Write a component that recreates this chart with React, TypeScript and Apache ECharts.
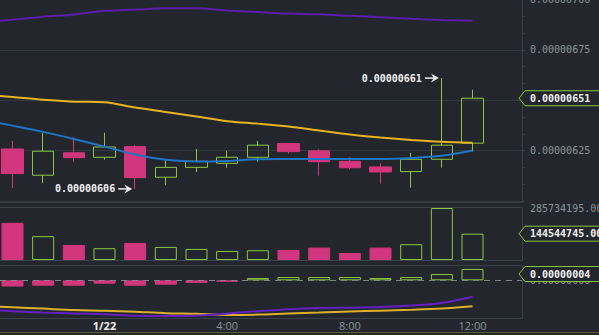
import React, { useEffect, useRef } from 'react';
import * as echarts from 'echarts';

// ---- data (prices in units of 1e-8) ----
const PRICE_UNIT = 1e-8;
const candleHours = [-3, -2, -1, 0, 1, 2, 3, 4, 5, 6, 7, 8, 9, 10, 11, 12];
const lineHours = [-4, -3, -2, -1, 0, 1, 2, 3, 4, 5, 6, 7, 8, 9, 10, 11, 12];

const openSat = [625.8, 612.8, 623.9, 621.7, 627.0, 611.8, 616.7, 618.7, 621.7, 628.5, 624.9, 619.7, 616.9, 614.6, 620.7, 628.7];
const closeSat = [613.6, 624.7, 621.5, 626.8, 611.6, 616.7, 619.7, 621.7, 627.7, 624.5, 619.5, 616.5, 614.4, 620.7, 627.7, 651.0];
const lowSat = [606.5, 608.8, 619.5, 620.5, 606.0, 607.8, 614.4, 616.5, 619.5, 623.5, 612.6, 615.6, 608.6, 606.6, 616.5, 624.5];
const highSat = [629.8, 633.9, 631.8, 633.9, 627.8, 620.9, 625.8, 624.9, 629.8, 628.7, 625.8, 621.7, 618.9, 623.9, 661.0, 655.2];

const volume = [204500000, 131000000, 82900000, 64700000, 94000000, 71800000, 60800000, 49700000, 53600000, 55300000, 68000000, 38700000, 68000000, 86800000, 285734195, 144544745];

const maLong = [688.6, 690.0, 691.4, 692.6, 694.4, 695.0, 695.6, 695.7, 694.5, 693.8, 693.0, 692.7, 691.9, 691.2, 690.4, 689.8, 689.5];
const maMid = [652.9, 651.6, 650.2, 649.3, 649.0, 646.4, 644.2, 641.9, 639.6, 638.4, 637.0, 635.0, 633.0, 631.5, 630.3, 629.4, 628.9];
const maShort = [640.4, 637.4, 634.3, 630.8, 627.0, 623.1, 620.5, 619.6, 619.9, 620.7, 620.8, 620.9, 620.8, 620.8, 621.3, 622.4, 625.0];

const macdLine = [-10.4, -10.9, -11.4, -11.7, -12.0, -12.5, -12.6, -12.5, -11.7, -10.9, -10.2, -9.8, -9.65, -9.4, -8.9, -8.0, -5.8];
const signalLine = [-8.98, -9.5, -9.99, -10.5, -10.7, -11.1, -11.6, -11.8, -12.2, -12.1, -11.7, -11.4, -11.0, -10.7, -10.4, -9.96, -9.15];
const macdHist = [-2.2, -1.9, -1.9, -1.2, -1.9, -1.55, -0.9, -0.5, 0.8, 1.15, 1.15, 1.15, 0.8, 1.15, 2.2, 4.0];

const xTickHours = [0, 4, 8, 12];
const xTickLabels = ['1/22', '4:00', '8:00', '12:00'];

// ---- styles ----
const BG = '#23272d';
const GREEN = '#8cc63f';
const PINK = '#d2367c';
const GRID_LINE = '#31373e';
const BORDER = '#3a4048';
const AXIS_TEXT = '#8c939a';
const MONO = '"DejaVu Sans Mono", "Liberation Mono", monospace';
const SANS = '"Open Sans", "Noto Sans", sans-serif';
const X_MIN = -3.407;
const X_MAX = 13.613;
const TAG_HALF = 7.5;

const fmtPrice = (v: number) => (v * PRICE_UNIT).toFixed(8);
const maxVolume = Math.max(...volume);

function buildOption(): any {
  const isUp = (i: number) => closeSat[i] >= openSat[i];
  const xAxisBase = (gridIndex: number) => ({
    type: 'value',
    gridIndex,
    min: X_MIN,
    max: X_MAX,
    show: false,
  });
  return {
    animation: false,
    backgroundColor: BG,
    grid: [
      { left: 0, right: 77, top: -0.5, height: 201.5, containLabel: false, outerBoundsMode: 'none' },
      { left: 0, right: 77, top: 208, height: 52, containLabel: false, outerBoundsMode: 'none' },
      { left: 0, right: 77, top: 265, height: 53, containLabel: false, outerBoundsMode: 'none' },
    ],
    xAxis: [
      xAxisBase(0),
      xAxisBase(1),
      {
        type: 'value',
        gridIndex: 2,
        min: X_MIN,
        max: X_MAX,
        axisLine: { show: false, onZero: false },
        axisTick: { show: false },
        splitLine: { show: false },
        axisLabel: {
          customValues: xTickHours,
          margin: 2,
          color: AXIS_TEXT,
          fontFamily: SANS,
          fontSize: 11,
          formatter: (v: number) => {
            const i = xTickHours.indexOf(v);
            const t = i >= 0 ? xTickLabels[i] : '';
            return i === 0 ? `{b|${t}}` : t;
          },
          rich: { b: { fontWeight: 'bold', color: '#eeeeee', fontFamily: SANS, fontSize: 11 } },
        },
      },
    ],
    yAxis: [
      {
        type: 'value',
        gridIndex: 0,
        position: 'right',
        min: 600,
        max: 700,
        interval: 25,
        axisLine: { show: true, onZero: false, lineStyle: { color: BORDER } },
        axisTick: { show: true, length: 3, lineStyle: { color: BORDER } },
        minorTick: { show: true, splitNumber: 3, length: 3, lineStyle: { color: BORDER } },
        splitLine: { show: true, lineStyle: { color: GRID_LINE } },
        axisLabel: {
          margin: 8,
          color: AXIS_TEXT,
          fontFamily: MONO,
          fontSize: 10,
          showMinLabel: false,
          formatter: (v: number) => fmtPrice(v),
        },
      },
      {
        type: 'value',
        gridIndex: 1,
        position: 'right',
        min: 0,
        max: maxVolume,
        axisLine: { show: false, onZero: false },
        axisTick: { show: false },
        splitLine: { show: false },
        axisLabel: {
          customValues: [maxVolume],
          margin: 8,
          color: AXIS_TEXT,
          fontFamily: MONO,
          fontSize: 10,
          formatter: (v: number) => v.toFixed(2),
        },
      },
      {
        type: 'value',
        gridIndex: 2,
        position: 'right',
        min: -13.3,
        max: 5.4,
        axisLine: { show: false, onZero: false },
        axisTick: { show: false },
        splitLine: { show: false },
        axisLabel: {
          customValues: [0],
          margin: 8,
          color: AXIS_TEXT,
          fontFamily: MONO,
          fontSize: 10,
          formatter: (v: number) => fmtPrice(v),
        },
      },
    ],
    series: [
      {
        type: 'candlestick',
        xAxisIndex: 0,
        yAxisIndex: 0,
        barWidth: 22,
        data: candleHours.map((h, i) => [h, openSat[i], closeSat[i], lowSat[i], highSat[i]]),
        itemStyle: {
          color: 'rgba(0,0,0,0)',
          color0: PINK,
          borderColor: GREEN,
          borderColor0: PINK,
          borderWidth: 1,
        },
        z: 2,
      },
      {
        type: 'line',
        xAxisIndex: 0,
        yAxisIndex: 0,
        data: lineHours.map((h, i) => [h, maLong[i]]),
        showSymbol: false,
        smooth: 0.3,
        lineStyle: { color: '#5a1ea8', width: 2 },
        z: 3,
      },
      {
        type: 'line',
        xAxisIndex: 0,
        yAxisIndex: 0,
        data: lineHours.map((h, i) => [h, maMid[i]]),
        showSymbol: false,
        smooth: 0.3,
        lineStyle: { color: '#e6b422', width: 2 },
        z: 3,
      },
      {
        type: 'line',
        xAxisIndex: 0,
        yAxisIndex: 0,
        data: lineHours.map((h, i) => [h, maShort[i]]),
        showSymbol: false,
        smooth: 0.3,
        lineStyle: { color: '#1f74c4', width: 2 },
        z: 3,
      },
      {
        type: 'bar',
        xAxisIndex: 1,
        yAxisIndex: 1,
        barWidth: 22,
        data: candleHours.map((h, i) => ({
          value: [h, volume[i]],
          itemStyle: {
            color: isUp(i) ? 'rgba(0,0,0,0)' : PINK,
            borderColor: isUp(i) ? GREEN : PINK,
            borderWidth: 1,
          },
        })),
      },
      {
        type: 'bar',
        xAxisIndex: 2,
        yAxisIndex: 2,
        barWidth: 22,
        data: candleHours.map((h, i) => ({
          value: [h, macdHist[i]],
          itemStyle: {
            color: macdHist[i] >= 0 ? 'rgba(0,0,0,0)' : PINK,
            borderColor: macdHist[i] >= 0 ? GREEN : PINK,
            borderWidth: 1,
          },
        })),
        markLine: {
          silent: true,
          symbol: 'none',
          label: { show: false },
          lineStyle: { color: '#7d848c', type: [6, 5], width: 1 },
          data: [{ yAxis: 0 }],
        },
      },
      {
        type: 'line',
        xAxisIndex: 2,
        yAxisIndex: 2,
        data: lineHours.map((h, i) => [h, signalLine[i]]),
        showSymbol: false,
        smooth: 0.3,
        lineStyle: { color: '#dbb12c', width: 2 },
      },
      {
        type: 'line',
        xAxisIndex: 2,
        yAxisIndex: 2,
        data: lineHours.map((h, i) => [h, macdLine[i]]),
        showSymbol: false,
        smooth: 0.3,
        lineStyle: { color: '#6420c0', width: 2 },
      },
    ],
  };
}

function priceTag(cy: number, text: string, color: string) {
  const h = TAG_HALF;
  return [
    {
      type: 'polygon',
      z: 100,
      shape: { points: [[519, cy], [525, cy - h], [640, cy - h], [640, cy + h], [525, cy + h]] },
      style: { fill: BG, stroke: color, lineWidth: 1 },
    },
    {
      type: 'text',
      z: 101,
      x: 530,
      y: cy,
      style: { text, fill: '#f2f2f2', font: `bold 10px ${MONO}`, align: 'left', verticalAlign: 'middle' },
    },
  ];
}

function arrowNote(px: number, py: number, text: string) {
  return [
    {
      type: 'line',
      z: 100,
      shape: { x1: px - 17, y1: py, x2: px - 6, y2: py },
      style: { stroke: '#eeeeee', lineWidth: 1.5 },
    },
    {
      type: 'polygon',
      z: 100,
      shape: { points: [[px - 3, py], [px - 11, py - 4.5], [px - 8, py], [px - 11, py + 4.5]] },
      style: { fill: '#eeeeee' },
    },
    {
      type: 'text',
      z: 101,
      x: px - 20,
      y: py,
      style: { text, fill: '#f2f2f2', font: `bold 10px ${MONO}`, align: 'right', verticalAlign: 'middle' },
    },
  ];
}

function hline(x1: number, x2: number, y: number, color = BORDER) {
  return { type: 'line', z: 1, shape: { x1, y1: y, x2, y2: y }, style: { stroke: color, lineWidth: 1 } };
}
function vline(x: number, y1: number, y2: number) {
  return { type: 'line', z: 1, shape: { x1: x, y1, x2: x, y2 }, style: { stroke: BORDER, lineWidth: 1 } };
}

export default function App() {
  const ref = useRef<HTMLDivElement>(null);
  useEffect(() => {
    document.body.style.margin = '0';
    document.body.style.background = BG;
    const chart = echarts.init(ref.current!, null, { renderer: 'svg' });
    chart.setOption(buildOption());

    const last = candleHours.length - 1;
    const pPrice = chart.convertToPixel({ gridIndex: 0 }, [candleHours[last], closeSat[last]]) as number[];
    const pVol = chart.convertToPixel({ gridIndex: 1 }, [candleHours[last], volume[last]]) as number[];
    const pHist = chart.convertToPixel({ gridIndex: 2 }, [candleHours[last], macdHist[last]]) as number[];
    // keep the tag inside its panel (panel top at 265)
    const histTagY = Math.max(pHist[1], 265 + TAG_HALF + 1.5);

    let hi = 0;
    let lo = 0;
    highSat.forEach((v, i) => { if (v > highSat[hi]) hi = i; });
    lowSat.forEach((v, i) => { if (v < lowSat[lo]) lo = i; });
    const pHi = chart.convertToPixel({ gridIndex: 0 }, [candleHours[hi], highSat[hi]]) as number[];
    const pLo = chart.convertToPixel({ gridIndex: 0 }, [candleHours[lo], lowSat[lo]]) as number[];

    const lastColor = closeSat[last] >= openSat[last] ? GREEN : PINK;

    const graphic: any[] = [
      hline(0, 522.5, 202.5),
      vline(522.5, 0, 202.5),
      hline(0, 522.5, 207.5),
      hline(0, 522.5, 260.5),
      vline(522.5, 207.5, 260.5),
      hline(0, 522.5, 265.5),
      hline(0, 522.5, 318.5),
      vline(522.5, 265.5, 318.5),
      hline(0, 599, 332.5, '#5c5b34'),
      ...priceTag(pPrice[1], fmtPrice(closeSat[last]), lastColor),
      ...priceTag(pVol[1], volume[last].toFixed(2), lastColor),
      ...priceTag(histTagY, fmtPrice(macdHist[last]), macdHist[last] >= 0 ? GREEN : PINK),
      ...arrowNote(pHi[0], pHi[1], fmtPrice(highSat[hi])),
      ...arrowNote(pLo[0], pLo[1], fmtPrice(lowSat[lo])),
    ];
    chart.setOption({ graphic });
    return () => chart.dispose();
  }, []);
  return (
    <div
      ref={ref}
      style={{ position: 'fixed', left: 0, top: 0, width: 599, height: 335, background: BG }}
    />
  );
}
